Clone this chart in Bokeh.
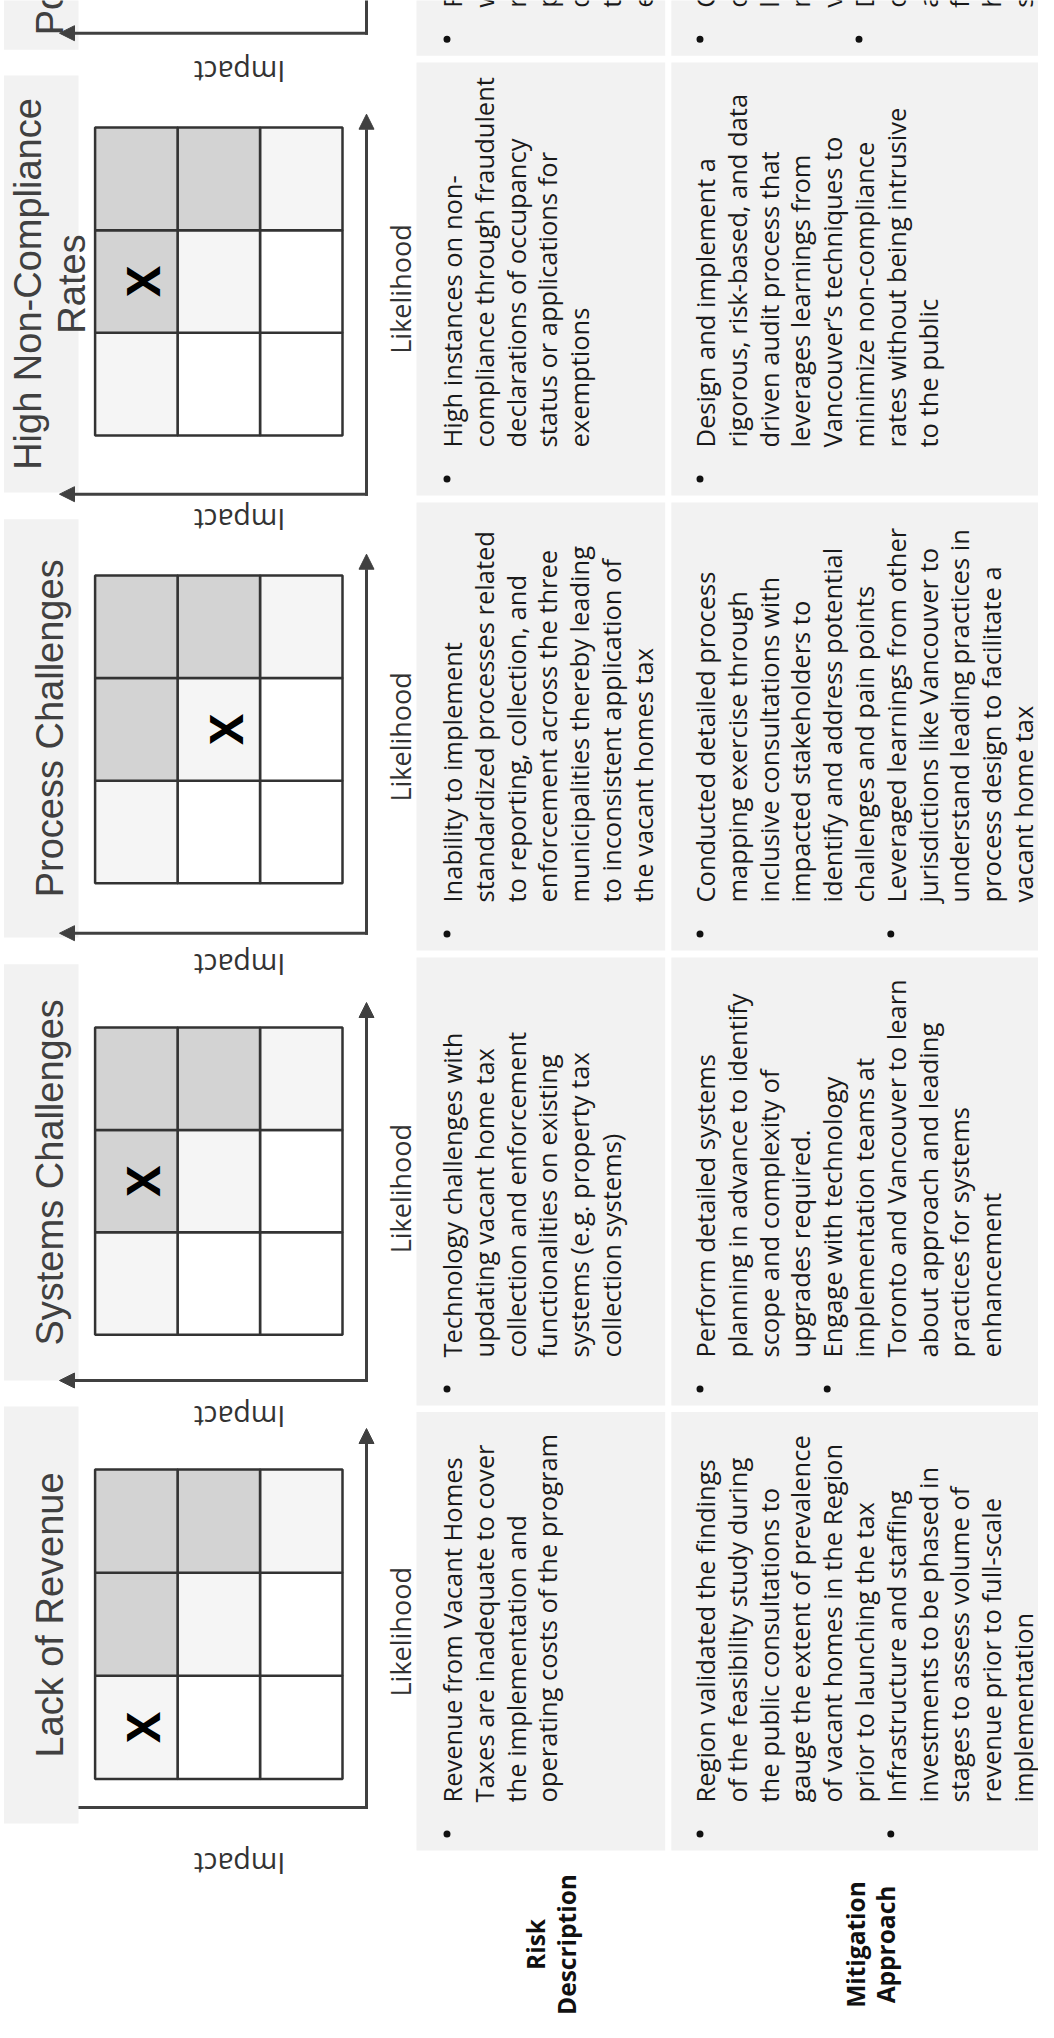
import numpy as np
from bokeh.plotting import figure
from bokeh.models import Range1d, Arrow, NormalHead
from bokeh.core.properties import value
from bokeh.embed import file_html
from bokeh.resources import INLINE

# ------------------------------------------------------------------
# DATA  (index 0 = bottom row of the page, upwards)
# ------------------------------------------------------------------
risk_titles = [
    ["Lack of Revenue"],
    ["Systems Challenges"],
    ["Process Challenges"],
    ["High Non-Compliance", "Rates"],
    ["Policy and Political Risk"],
]
# position of the "X" in the 3x3 matrix (1 = low, 3 = high)
risk_likelihood = [1, 2, 2, 2, 2]
risk_impact = [3, 3, 2, 3, 3]

risk_description = [
    [["Revenue from Vacant Homes", "Taxes are inadequate to cover",
      "the implementation and", "operating costs of the program"]],
    [["Technology challenges with", "updating vacant home tax",
      "collection and enforcement", "functionalities on existing",
      "systems (e.g. property tax", "collection systems)"]],
    [["Inability to implement", "standardized processes related",
      "to reporting, collection, and", "enforcement across the three",
      "municipalities thereby leading", "to inconsistent application of",
      "the vacant homes tax"]],
    [["High instances on non-", "compliance through fraudulent",
      "declarations of occupancy", "status or applications for",
      "exemptions"]],
    [["Residents and advocacy groups who", "would be subject to the tax may",
      "resist its introduction, creating", "political pressure that could",
      "delay implementation or lead", "to changes in program design and",
      "exemption criteria"]],
]

mitigation_approach = [
    [["Region validated the findings", "of the feasibility study during",
      "the public consultations to", "gauge the extent of prevalence",
      "of vacant homes in the Region", "prior to launching the tax"],
     ["Infrastructure and staffing", "investments to be phased in",
      "stages to assess volume of", "revenue prior to full-scale",
      "implementation"]],
    [["Perform detailed systems", "planning in advance to identify",
      "scope and complexity of", "upgrades required."],
     ["Engage with technology", "implementation teams at",
      "Toronto and Vancouver to learn", "about approach and leading",
      "practices for systems", "enhancement"]],
    [["Conducted detailed process", "mapping exercise through",
      "inclusive consultations with", "impacted stakeholders to",
      "identify and address potential", "challenges and pain points"],
     ["Leveraged learnings from other", "jurisdictions like Vancouver to",
      "understand leading practices in", "process design to facilitate a",
      "vacant home tax"]],
    [["Design and implement a", "rigorous, risk-based, and data",
      "driven audit process that", "leverages learnings from",
      "Vancouver\u2019s techniques to", "minimize non-compliance",
      "rates without being intrusive", "to the public"]],
    [["Conducted extensive public", "consultations with residents to",
      "learn about concerns and", "mitigate potential opposition",
      "via surveys and open houses"],
     ["Developed a clear", "communications strategy",
      "and FAQ materials to explain", "from the outset how the tax",
      "helps increase housing", "serves affordability goals"]],
]

column_headers = [["Risk", "Description"], ["Mitigation", "Approach"]]
likelihood_label = "Likelihood"
impact_label = "Impact"
matrix_levels = [1, 2, 3]

# ------------------------------------------------------------------
# LAYOUT (page pixels, y downwards)
# ------------------------------------------------------------------
M = 8
W, H = 1038, 2020
cell_top = [1419.5, 965, 510, 70, -420]
cell_bot = [1858, 1413, 958, 503, 63.3]
title_top = [1414, 971.7, 526.7, 83, -373]
title_bot = [1831, 1388, 945, 500, 57.3]
grid_top = [1477, 1035, 583, 135, -372]
grid_bot = [1786.5, 1342.3, 890.7, 443, -65]
arrow_tip = [1436, 1010, 561.7, 121.7, -350]
arrow_base = [1815, 1388, 940.7, 501.7, 40.7]
impact_y = [1860, 1413, 961.7, 516.7, 68]

TITLE_X0, TITLE_X1 = 11.5, 86
TITLE_BASE, TITLE_SPACING = 57, 44
GRID_X0, GRID_X1 = 102.6, 350
AXIS_X, HEAD_X = 374, 67
LIK_X, IMP_X = 408, 247
IMP_DY = 11
COL_X = [(424, 672.7), (678.8, 1060)]
BULLET_X = [454.5, 707.5]
LINE_SP = 31.8
BASE_OFF = 5
HEADER_Y = 1952
HEADER_BASE = [[543.3, 574.0], [862.8, 893.0]]
X_DX = 6

DARK, LIGHT, WHITE = "#d3d3d3", "#f5f5f5", "#ffffff"
BOX = "#f2f2f2"
AX = "#404040"


def shade(l, i):
    s = l + i
    return DARK if s >= 5 else (LIGHT if s == 4 else WHITE)


p = figure(width=W, height=H, x_range=Range1d(M, M + W), y_range=Range1d(M + H, M),
           output_backend="svg", toolbar_location=None, min_border=0,
           outline_line_color=None, x_axis_location=None, y_axis_location=None,
           background_fill_color="white", border_fill_color="white")
p.grid.visible = False

n = len(risk_titles)

# title boxes
p.quad(left=[TITLE_X0] * n, right=[TITLE_X1] * n, top=title_top, bottom=title_bot,
       fill_color=BOX, line_color=None)

# table cells
cl, cr, ct, cb = [], [], [], []
for k in range(n):
    for (x0, x1) in COL_X:
        cl.append(x0); cr.append(x1); ct.append(cell_top[k]); cb.append(cell_bot[k])
p.quad(left=cl, right=cr, top=ct, bottom=cb, fill_color=BOX, line_color=None)

# risk matrices
ml, mr, mt, mb, mc = [], [], [], [], []
xx, xy = [], []
cw = (GRID_X1 - GRID_X0) / 3
for k in range(n):
    rh = (grid_bot[k] - grid_top[k]) / 3
    for l in matrix_levels:
        for i in matrix_levels:
            r, c = 3 - l, 3 - i
            left = GRID_X0 + c * cw
            top = grid_top[k] + r * rh
            ml.append(left); mr.append(left + cw); mt.append(top); mb.append(top + rh)
            mc.append(shade(l, i))
    r, c = 3 - risk_likelihood[k], 3 - risk_impact[k]
    xx.append(GRID_X0 + (c + 0.5) * cw + X_DX)
    xy.append(grid_top[k] + (r + 0.5) * rh)
p.quad(left=ml, right=mr, top=mt, bottom=mb, fill_color=mc, line_color="#333333", line_width=2.5)
p.text(x=xx, y=xy, text=["X"] * n, angle=np.pi / 2, text_align="center",
       text_baseline="middle", text_font=value("Open Sans"), text_font_size="46px",
       text_font_style="bold", text_color="#000000")

# axes arrows
for k in range(n):
    p.add_layout(Arrow(end=NormalHead(size=15, fill_color=AX, line_color=AX, line_width=1),
                       x_start=AXIS_X, y_start=arrow_base[k] + 1.5,
                       x_end=AXIS_X, y_end=arrow_tip[k], line_color=AX, line_width=3))
    if k == 0:
        p.segment(x0=[AXIS_X + 1.5], y0=[arrow_base[k]], x1=[TITLE_X1], y1=[arrow_base[k]],
                  line_color=AX, line_width=3)
    else:
        p.add_layout(Arrow(end=NormalHead(size=15, fill_color=AX, line_color=AX, line_width=1),
                           x_start=AXIS_X + 1.5, y_start=arrow_base[k],
                           x_end=HEAD_X, y_end=arrow_base[k], line_color=AX, line_width=3))

# axis labels
p.text(x=[LIK_X] * n, y=[(grid_top[k] + grid_bot[k]) / 2 + 7.5 for k in range(n)],
       text=[likelihood_label] * n, angle=np.pi / 2, text_align="center",
       text_baseline="alphabetic", text_font=value("Open Sans"), text_font_size="27px",
       text_color="#333333")
p.text(x=[IMP_X] * n, y=[v + IMP_DY for v in impact_y], text=[impact_label] * n, angle=np.pi,
       text_align="center", text_baseline="middle", text_font=value("Open Sans"),
       text_font_size="28.5px", text_color="#333333")

# titles
tx, ty, tt = [], [], []
for k in range(n):
    lines = risk_titles[k]
    cy = (title_top[k] + title_bot[k]) / 2
    m = len(lines)
    for j, s in enumerate(lines):
        tx.append(TITLE_BASE + (j - (m - 1) / 2) * TITLE_SPACING)
        ty.append(cy); tt.append(s)
p.text(x=tx, y=ty, text=tt, angle=np.pi / 2, text_align="center", text_baseline="alphabetic",
       text_font=value("Liberation Sans"), text_font_size="38px", text_color="#404040")

# body text and bullets
bx, by, lx, ly, lt = [], [], [], [], []
for k in range(n):
    for col, content in enumerate([risk_description[k], mitigation_approach[k]]):
        idx = 0
        for bullet in content:
            bx.append(BULLET_X[col] + idx * LINE_SP)
            by.append(cell_bot[k] - 16.5)
            for s in bullet:
                lx.append(BULLET_X[col] + BASE_OFF + idx * LINE_SP)
                ly.append(cell_bot[k] - 48)
                lt.append(s)
                idx += 1
p.scatter(x=bx, y=by, size=7, marker="circle", fill_color="#111111", line_color=None)
p.text(x=lx, y=ly, text=lt, angle=np.pi / 2, text_align="left", text_baseline="alphabetic",
       text_font=value("Open Sans"), text_font_size="25.5px", text_color="#1a1a1a")

# column headers
hx, hy, ht = [], [], []
for col, lines in enumerate(column_headers):
    for j, s in enumerate(lines):
        hx.append(HEADER_BASE[col][j]); hy.append(HEADER_Y); ht.append(s)
p.text(x=hx, y=hy, text=ht, angle=np.pi / 2, text_align="center", text_baseline="alphabetic",
       text_font=value("Open Sans"), text_font_size="24.5px", text_font_style="bold",
       text_color="#111111")

open("out.html", "w").write(file_html(p, INLINE))
